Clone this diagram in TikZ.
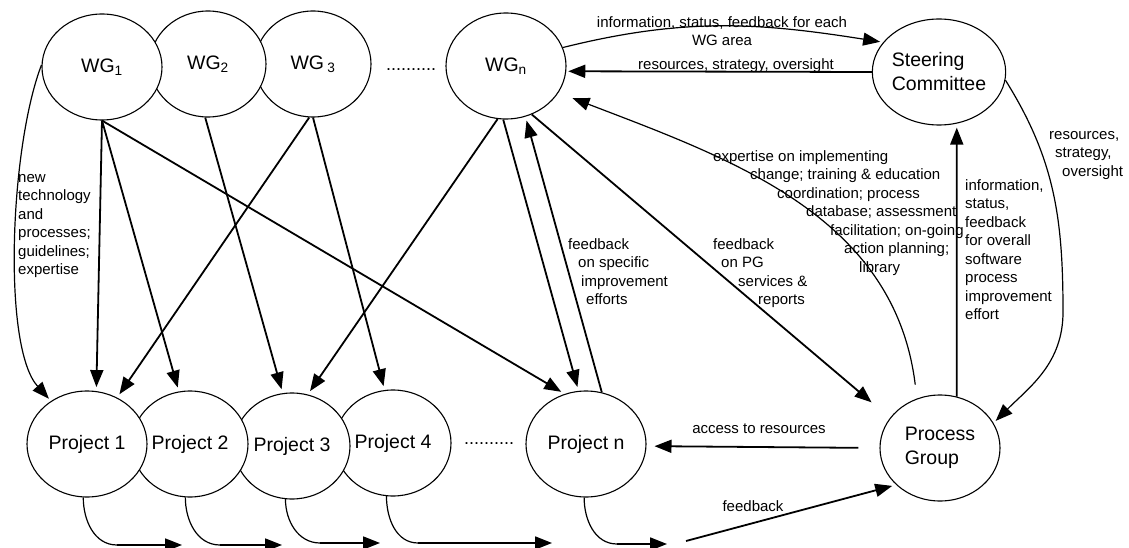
\documentclass[tikz,border=0pt]{standalone}
\usepackage{fontspec}
\setmainfont{Liberation Sans}
\usetikzlibrary{arrows.meta, shapes.geometric}
\newcommand{\bubfont}{\fontsize{19.5}{24}\selectfont}
\newcommand{\lblfont}{\fontsize{15}{18.5}\selectfont}
\tikzset{>={Triangle[length=17pt,width=13pt]}}
\tikzset{bubble/.style={draw, ellipse, fill=white, line width=1.1pt,
    inner sep=0pt, minimum width=120pt, minimum height=106pt, font=\bubfont}
}
\tikzset{flowline/.style={->, line width=1.8pt, shorten >=4pt}}
\tikzset{curvy/.style={->, line width=1.2pt, shorten >=3pt}}
\tikzset{swoop/.style={line width=1.2pt}}
\tikzset{lbl/.style={inner sep=0pt, align=left, font=\lblfont}}

\begin{document}
\begin{tikzpicture}[x=1pt, y=1pt, line join=round]
\useasboundingbox (0,0) rectangle (1129,547);

% projects, right ones first so the left ones lie on top
\node[bubble, minimum width=116pt] (P4) at (393,104) {Project 4};
\node[bubble, minimum width=116pt] (P3) at (292,101) {Project 3};
\node[bubble, minimum width=116pt] (P2) at (190,103) {Project 2};
\node[bubble] (P1) at (87,103) {Project 1};
\node[bubble] (Pn) at (586,103) {Project n};
\node[bubble, align=left] (PG) at (940,99) {Process\\Group};

\node[bubble, minimum width=116pt] (WG3) at (313,483) {WG\,\textsubscript{3}};
\node[bubble, minimum width=116pt] (WG2) at (208,483) {WG\textsubscript{2}};
\node[bubble] (WG1) at (102,480) {WG\textsubscript{1}};
\node[bubble] (WGn) at (506,481) {WG\textsubscript{n}};
\node[bubble, align=left] (SC) at (939,475) {Steering\\Committee};

\node[font=\fontsize{18}{18}\selectfont, inner sep=0pt, anchor=base] (gapwg) at (411,476) {..........};
\node[font=\fontsize{18}{18}\selectfont, inner sep=0pt, anchor=base] (gapp) at (489,103) {..........};

% working groups to projects
\draw[curvy] (WG1.178) .. controls (10,400) and (2,200) .. (P1.130);
\draw[flowline] (WG1.south) -- (P1.80);
\draw[flowline] (WG1.south) -- (P2.102);
\draw[flowline] (WG1.south) -- (Pn.113);
\draw[flowline] (WG2.-93) -- (P3.100);
\draw[flowline] (WG3.-94) -- (P1.57);
\draw[flowline] (WG3.south) -- (P4.99);
\draw[flowline] (WGn.-99) -- (P3.73);
\draw[flowline] (WGn.-93) -- (Pn.98);
\draw[flowline] (Pn.73) -- (WGn.-69);
\draw[flowline, shorten >=24pt] (WGn.-62) -- (PG.149);
\draw[curvy, shorten <=14pt, shorten >=15pt] (PG.115) to[out=97, in=-21] (WGn.-27);

% steering committee
\draw[flowline, shorten >=2pt] (SC.180) -- (WGn.-5);
\draw[curvy] (WGn.18) to[out=14, in=171] (SC.152);
\draw[flowline] (PG.72) -- (SC.-71);
\coordinate (rbend) at (1063,235);
\draw[curvy] (SC.-7) to[out=-58, in=90] (rbend) to[out=-90, in=45] (PG.25);
\draw[flowline, shorten <=21pt, shorten >=8pt] (PG.west) -- (Pn.-2);

% outputs along the bottom
\coordinate (k1) at (117,2);  \coordinate (t1) at (182,2);
\coordinate (k2) at (220,2);  \coordinate (t2) at (282,2);
\coordinate (k3) at (320,4);  \coordinate (t3) at (380,4);
\coordinate (k4) at (418,4);  \coordinate (t4) at (552,4);
\coordinate (kn) at (617,3);  \coordinate (tn) at (667,3);
\coordinate (fb) at (686,6);
\draw[swoop] (P1.-94) to[out=-90, in=180] (k1);
\draw[flowline, shorten >=0pt] (k1) -- (t1);
\draw[swoop] (P2.-95) to[out=-90, in=180] (k2);
\draw[flowline, shorten >=0pt] (k2) -- (t2);
\draw[swoop] (P3.-97) to[out=-90, in=180] (k3);
\draw[flowline, shorten >=0pt] (k3) -- (t3);
\draw[swoop] (P4.-97) to[out=-90, in=180] (k4);
\draw[flowline, shorten >=0pt] (k4) -- (t4);
\draw[swoop] (Pn.-92) to[out=-90, in=180] (kn);
\draw[flowline, shorten >=0pt] (kn) -- (tn);
\draw[flowline] (fb) -- (PG.220);

% labels
\node[lbl, anchor=north west] (lnew) at (18,378) {\strut new\\technology\\and\\processes;\\guidelines;\\expertise};
\node[lbl, anchor=north west] (lspec) at (568,311) {\strut feedback\\\hspace*{10pt}on specific\\\hspace*{13pt}improvement\\\hspace*{18pt}efforts};
\node[lbl, anchor=north west] (lpg) at (713,311) {\strut feedback\\\hspace*{8pt}on PG\\\hspace*{25pt}services \&\\\hspace*{45pt}reports};
\node[lbl, anchor=north west] (lexp) at (713,399) {\strut expertise on implementing\\\hspace*{37pt}change; training \& education\\\hspace*{64pt}coordination; process\\\hspace*{93pt}database; assessment\\\hspace*{117pt}facilitation; on-going\\\hspace*{131pt}action planning;\\\hspace*{146pt}library};
\node[lbl, anchor=north west] (linfo) at (965,370) {\strut information,\\status,\\feedback\\for overall\\software\\process\\improvement\\effort};
\node[lbl, anchor=north west] (lres) at (1049,421) {\strut resources,\\\hspace*{6pt}strategy,\\\hspace*{13pt}oversight};
\node[lbl, anchor=base] (lacc) at (759,114) {access to resources};
\node[lbl, anchor=base] (lfb) at (753,36) {feedback};
\node[lbl, align=center, anchor=north] (lwg) at (722,533) {\strut information, status, feedback for each\\WG area};
\node[lbl, anchor=base] (lscres) at (736,477) {resources, strategy, oversight};

\end{tikzpicture}
\end{document}
